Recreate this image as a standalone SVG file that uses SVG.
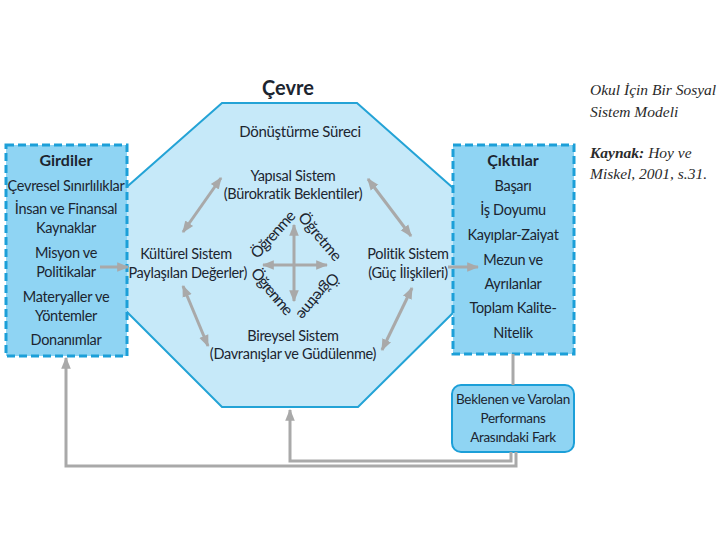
<svg xmlns="http://www.w3.org/2000/svg" width="720" height="540" viewBox="0 0 720 540">
<style>
.t{font-family:Lato,"Open Sans","DejaVu Sans",sans-serif;font-size:14.5px;letter-spacing:-0.3px;fill:#1c2530;text-anchor:middle}
.b{font-weight:bold;letter-spacing:0}
.s{font-size:13.5px}
.d{font-size:15.5px;letter-spacing:0}
.r{font-family:"Liberation Serif","DejaVu Serif",serif;font-style:italic;font-size:15.5px;fill:#2a2a2a}
.box{fill:#8fd4f3;stroke:#1c9fd8;stroke-width:3;stroke-dasharray:8 4}
.ln{fill:none;stroke:#a9a9a9;stroke-width:3}
</style>
<defs>
<marker id="ah" viewBox="0 0 10 10" refX="9" refY="5" markerWidth="4" markerHeight="4" orient="auto-start-reverse" markerUnits="strokeWidth">
<path d="M0,1 L10,5 L0,9 Z" fill="#a9a9a9"/>
</marker>
</defs>
<rect width="720" height="540" fill="#fff"/>
<g id="cevre">
<polygon points="222,103 357,103 470,203 470,296 358,407 222,407 112,297 112,200" fill="#c6e9f9" stroke="#24a3d6" stroke-width="2"/>
<text class="t b" x="288" y="95" style="font-size:20px">Çevre</text>
<text class="t" x="300" y="137" style="font-size:15px">Dönüştürme Süreci</text>
</g>
<g id="yapisal"><text class="t" x="293" y="181">Yapısal Sistem</text><text class="t" x="293" y="199">(Bürokratik Beklentiler)</text></g>
<g id="kulturel"><text class="t" x="186" y="259">Kültürel Sistem</text><text class="t" x="186" y="278">(Paylaşılan Değerler)</text></g>
<g id="politik"><text class="t" x="408" y="259">Politik Sistem</text><text class="t" x="408" y="278">(Güç İlişkileri)</text></g>
<g id="bireysel"><text class="t" x="293" y="341">Bireysel Sistem</text><text class="t" x="293" y="359">(Davranışlar ve Güdülenme)</text></g>
<g id="ogrenme-ogretme">
<text class="t d" transform="translate(277,238) rotate(-48)" textLength="58">Öğrenme</text>
<text class="t d" transform="translate(316,240) rotate(50)" textLength="58">Öğretme</text>
<text class="t d" transform="translate(268,295) rotate(50)" textLength="56">Öğrenme</text>
<text class="t d" transform="translate(314,293) rotate(130)" textLength="56">Öğretme</text>
</g>
<g id="girdiler">
<rect class="box" x="6" y="145" width="121" height="211"/>
<text class="t b" x="66" y="166" style="font-size:16px">Girdiler</text>
<text class="t" x="66" y="191">Çevresel Sınırlılıklar</text>
<text class="t" x="66" y="214">İnsan ve Finansal</text>
<text class="t" x="66" y="233">Kaynaklar</text>
<text class="t" x="66" y="258">Misyon ve</text>
<text class="t" x="66" y="277">Politikalar</text>
<text class="t" x="66" y="302">Materyaller ve</text>
<text class="t" x="66" y="321">Yöntemler</text>
<text class="t" x="66" y="345">Donanımlar</text>
</g>
<g id="ciktilar">
<rect class="box" x="453" y="145" width="121" height="209"/>
<text class="t b" x="513" y="166" style="font-size:16px">Çıktılar</text>
<text class="t" x="513" y="191">Başarı</text>
<text class="t" x="513" y="215">İş Doyumu</text>
<text class="t" x="513" y="240">Kayıplar-Zaiyat</text>
<text class="t" x="513" y="265">Mezun ve</text>
<text class="t" x="513" y="289">Ayrılanlar</text>
<text class="t" x="513" y="313">Toplam Kalite-</text>
<text class="t" x="513" y="338">Nitelik</text>
</g>
<g id="fark">
<rect x="452" y="385" width="122" height="67" rx="9" fill="#8fd4f3" stroke="#1c9fd8" stroke-width="2"/>
<text class="t s" x="513" y="404">Beklenen ve Varolan</text>
<text class="t s" x="513" y="423">Performans</text>
<text class="t s" x="513" y="442">Arasındaki Fark</text>
</g>
<g id="connectors">
<line class="ln" x1="100" y1="267" x2="128" y2="267" marker-end="url(#ah)"/>
<line class="ln" x1="448" y1="267" x2="478" y2="267" marker-end="url(#ah)"/>
<line class="ln" x1="221" y1="178" x2="183" y2="232" marker-start="url(#ah)" marker-end="url(#ah)"/>
<line class="ln" x1="368" y1="179" x2="411" y2="236" marker-start="url(#ah)" marker-end="url(#ah)"/>
<line class="ln" x1="183" y1="286" x2="208" y2="346" marker-start="url(#ah)" marker-end="url(#ah)"/>
<line class="ln" x1="412" y1="288" x2="382" y2="350" marker-start="url(#ah)" marker-end="url(#ah)"/>
<line class="ln" x1="294" y1="301" x2="294" y2="225" marker-start="url(#ah)" marker-end="url(#ah)"/>
<line class="ln" x1="263" y1="265" x2="327" y2="265" marker-start="url(#ah)" marker-end="url(#ah)"/>
<line class="ln" x1="513" y1="354" x2="513" y2="385"/>
<polyline class="ln" points="511,452 511,461 290,461 290,410" marker-end="url(#ah)"/>
<polyline class="ln" points="516,452 516,466 66,466 66,358" marker-end="url(#ah)"/>
</g>
<g id="baslik">
<text class="r" x="590" y="95">Okul İçin Bir Sosyal</text>
<text class="r" x="590" y="117">Sistem Modeli</text>
<text class="r" x="590" y="158"><tspan font-weight="bold">Kaynak:</tspan> Hoy ve</text>
<text class="r" x="590" y="179">Miskel, 2001, s.31.</text>
</g>
</svg>
